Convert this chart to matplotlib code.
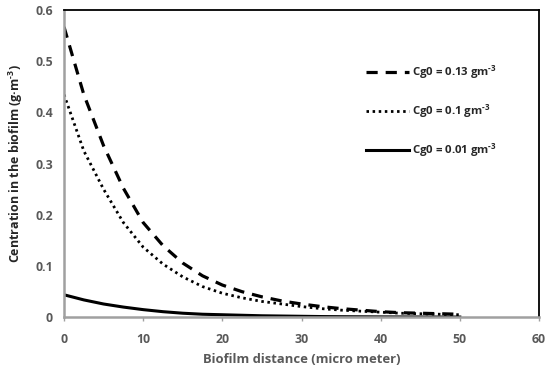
import matplotlib
matplotlib.use("Agg")
import matplotlib.pyplot as plt

x = [0, 2.5, 5, 7.5, 10, 12.5, 15, 17.5, 20, 22.5, 25, 27.5, 30, 32.5, 35, 37.5, 40, 42.5, 45, 47.5, 50]
y_013 = [0.567, 0.435, 0.335, 0.252, 0.185, 0.140, 0.106, 0.081, 0.063, 0.050, 0.040, 0.032, 0.026, 0.021, 0.017, 0.014, 0.011, 0.009, 0.008, 0.007, 0.006]
y_010 = [0.435, 0.325, 0.250, 0.185, 0.137, 0.104, 0.079, 0.060, 0.047, 0.038, 0.031, 0.026, 0.021, 0.017, 0.014, 0.012, 0.010, 0.008, 0.007, 0.006, 0.005]
y_001 = [0.044, 0.034, 0.026, 0.020, 0.015, 0.011, 0.008, 0.006, 0.005, 0.004, 0.003, 0.0025, 0.002, 0.0015, 0.0012, 0.001, 0.0008, 0.0007, 0.0006, 0.0005, 0.0005]
labels = [r"Cg0 = 0.13 gm$^{\text{-3}}$", r"Cg0 = 0.1 gm$^{\text{-3}}$", r"Cg0 = 0.01 gm$^{\text{-3}}$"]
xticks = [0, 10, 20, 30, 40, 50, 60]
yticks = [0, 0.1, 0.2, 0.3, 0.4, 0.5, 0.6]
ytick_labels = ["0", "0.1", "0.2", "0.3", "0.4", "0.5", "0.6"]

plt.rcParams['font.family'] = ['Open Sans', 'DejaVu Sans']
plt.rcParams['mathtext.fontset'] = 'custom'
plt.rcParams['mathtext.rm'] = 'Open Sans:bold'
plt.rcParams['mathtext.it'] = 'Open Sans:bold'
plt.rcParams['mathtext.bf'] = 'Open Sans:bold'
gray = "#595959"

fig = plt.figure(figsize=(5.5, 3.72), dpi=100)
ax = fig.add_axes([0.1164, 0.147, 0.8636, 0.826])

ax.plot(x, y_013, color="black", lw=2.3, linestyle=(0, (3.5, 2.5)), label=labels[0])
ax.plot(x, y_010, color="black", lw=2.0, linestyle=(0, (0.9, 1.3)), label=labels[1])
ax.plot(x, y_001, color="black", lw=2.2, linestyle="-", label=labels[2])

ax.set_xlim(0, 60)
ax.set_ylim(0, 0.6)
ax.set_xticks(xticks)
ax.set_xticklabels([str(t) for t in xticks])
ax.set_yticks(yticks)
ax.set_yticklabels(ytick_labels)

for s in ["top", "right"]:
    ax.spines[s].set_color("black")
    ax.spines[s].set_linewidth(1.3)
for s in ["left", "bottom"]:
    ax.spines[s].set_color("#a0a0a0")
    ax.spines[s].set_linewidth(1.8)

ax.tick_params(axis="both", colors="#a0a0a0", labelcolor=gray, length=3, width=1, labelsize=8.8, direction="out")
ax.tick_params(axis="y", length=0, pad=8)
ax.tick_params(axis="x", pad=8)
for lab in ax.get_xticklabels() + ax.get_yticklabels():
    lab.set_fontweight("bold")

ax.set_xlabel("Biofilm distance (micro meter)", fontsize=9.4, fontweight="bold", color=gray, labelpad=5)
ax.set_ylabel(r"Centration in the biofilm (g·m$^{\text{-3}}$)", fontsize=9.0, fontweight="bold", color="#262626", labelpad=7)

leg = ax.legend(loc="upper left", bbox_to_anchor=(0.615, 0.86), frameon=False, fontsize=8.2,
                handlelength=3.7, handletextpad=0.3, labelspacing=1.9)
for t in leg.get_texts():
    t.set_color("#262626")
    t.set_fontweight("bold")

fig.savefig("out.png", dpi=100)
